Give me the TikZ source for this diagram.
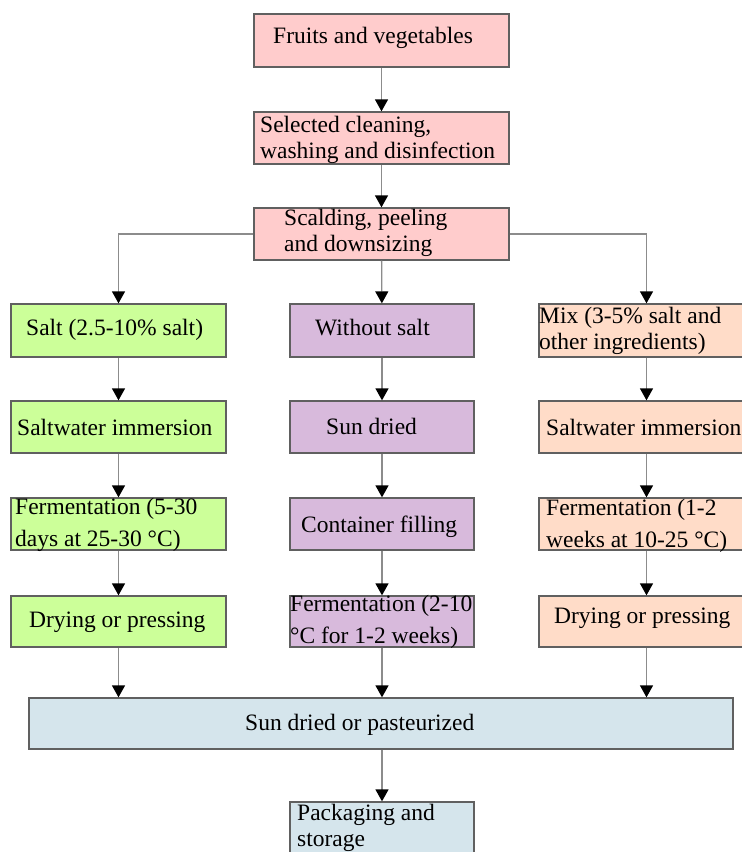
\documentclass[tikz,border=0pt]{standalone}
\usepackage{fontspec}
\setmainfont{Liberation Serif}
\usetikzlibrary{arrows.meta}
\definecolor{boxgray}{RGB}{96,96,96}
\definecolor{linegray}{RGB}{140,140,140}
\definecolor{boxpink}{RGB}{255,204,204}
\definecolor{boxgreen}{RGB}{204,255,153}
\definecolor{boxpurple}{RGB}{216,186,220}
\definecolor{boxpeach}{RGB}{255,220,200}
\definecolor{boxblue}{RGB}{213,229,236}
\tikzset{every node/.style={inner sep=0pt},
  box/.style={draw=boxgray, line width=1.3pt, minimum height=52pt},
  txt/.style={anchor=west, align=left, font=\fontsize{23.5}{26}\selectfont},
  txtwide/.style={txt, font=\fontsize{23.5}{32}\selectfont},
  flow/.style={draw=linegray, line width=1.3pt, -{Triangle[black,width=13pt,length=12pt]}}}

\begin{document}
\begin{tikzpicture}[x=1pt,y=-1pt]
  \useasboundingbox (0,0) rectangle (742,852);
  \clip (0,0) rectangle (742,852);

  \node[box, fill=boxpink, minimum width=255pt, minimum height=53pt] (fruit) at (381.5, 40.5) {};
  \node[box, fill=boxpink, minimum width=255pt] (clean) at (381.5,138) {};
  \node[box, fill=boxpink, minimum width=255pt] (scald) at (381.5,234) {};

  \node[box, fill=boxgreen, minimum width=215pt, minimum height=53pt] (l1) at (118.5,330.5) {};
  \node[box, fill=boxgreen, minimum width=215pt] (l2) at (118.5,427) {};
  \node[box, fill=boxgreen, minimum width=215pt] (l3) at (118.5,524) {};
  \node[box, fill=boxgreen, minimum width=215pt, minimum height=51pt] (l4) at (118.5,621.5) {};

  \node[box, fill=boxpurple, minimum width=184pt, minimum height=53pt] (m1) at (382,330.5) {};
  \node[box, fill=boxpurple, minimum width=184pt] (m2) at (382,427) {};
  \node[box, fill=boxpurple, minimum width=184pt] (m3) at (382,524) {};
  \node[box, fill=boxpurple, minimum width=184pt, minimum height=51pt] (m4) at (382,621.5) {};

  \node[box, fill=boxpeach, minimum width=215pt, minimum height=53pt] (r1) at (646.5,330.5) {};
  \node[box, fill=boxpeach, minimum width=215pt] (r2) at (646.5,427) {};
  \node[box, fill=boxpeach, minimum width=215pt] (r3) at (646.5,524) {};
  \node[box, fill=boxpeach, minimum width=215pt, minimum height=51pt] (r4) at (646.5,621.5) {};

  \node[box, fill=boxblue, minimum width=704pt, minimum height=51pt] (big) at (381,723.5) {};
  \node[box, fill=boxblue, minimum width=184pt, minimum height=70pt] (pack) at (382,837) {};

  \node[txt] (fruittxt) at (273, 38) {Fruits and vegetables};
  \node[txt] (cleantxt) at (260,140) {Selected cleaning,\\washing and disinfection};
  \node[txt] (scaldtxt) at (284,233) {Scalding, peeling\\and downsizing};
  \node[txt] (l1txt) at ( 26,330) {Salt (2.5-10\% salt)};
  \node[txt] (m1txt) at (315,328) {Without salt};
  \node[txt] (r1txt) at (539,331) {Mix (3-5\% salt and\\other ingredients)};
  \node[txt] (l2txt) at ( 17,427) {Saltwater immersion};
  \node[txt] (m2txt) at (326,426) {Sun dried};
  \node[txt] (r2txt) at (546,427) {Saltwater immersion};
  \node[txtwide] (l3txt) at ( 15,525) {Fermentation (5-30\\days at 25-30 °C)};
  \node[txt] (m3txt) at (301,527) {Container filling};
  \node[txtwide] (r3txt) at (546,526) {Fermentation (1-2\\weeks at 10-25 °C)};
  \node[txt] (l4txt) at ( 29,622) {Drying or pressing};
  \node[txtwide] (m4txt) at (290,622) {Fermentation (2-10\\°C for 1-2 weeks)};
  \node[txt] (r4txt) at (554,618) {Drying or pressing};
  \node[txt] (bigtxt) at (245,725) {Sun dried or pasteurized};
  \node[txt] (packtxt) at (297,828) {Packaging and\\storage};

  \draw[flow] (fruit) -- (clean);
  \draw[flow] (clean) -- (scald);
  \draw[flow] (scald.west) -| (l1);
  \draw[flow] (scald) -- (m1);
  \draw[flow] (scald.east) -| (r1);

  \draw[flow] (l1) -- (l2);
  \draw[flow] (l2) -- (l3);
  \draw[flow] (l3) -- (l4);
  \draw[flow] (m1) -- (m2);
  \draw[flow] (m2) -- (m3);
  \draw[flow] (m3) -- (m4);
  \draw[flow] (r1) -- (r2);
  \draw[flow] (r2) -- (r3);
  \draw[flow] (r3) -- (r4);

  \draw[flow] (l4) -- (l4 |- big.north);
  \draw[flow] (m4) -- (m4 |- big.north);
  \draw[flow] (r4) -- (r4 |- big.north);
  \draw[flow] (big.south -| pack.north) -- (pack);
\end{tikzpicture}
\end{document}
